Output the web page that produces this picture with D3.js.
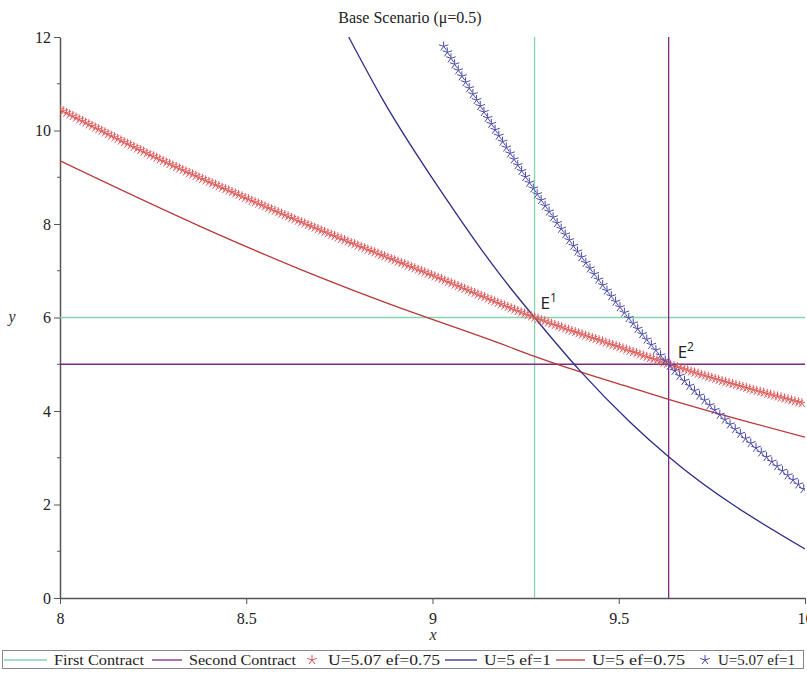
<!DOCTYPE html>
<html lang="en">
  <head>
    <meta charset="utf-8"/>
    <title>Base Scenario</title>
    <script src="https://d3js.org/d3.v7.min.js"></script>
    <style>
      body { margin: 0; background: #fff; }
      svg { display: block; font-family: "Liberation Serif", "DejaVu Serif", serif; }
    </style>
  </head>
  <body>
    <div id="chart"></div>
    <script>
    // values
    var xTicks = [8, 8.5, 9, 9.5, 10];
    var yTicks = [0, 2, 4, 6, 8, 10, 12];
    var firstContract = {x: 9.274, y: 6};
    var secondContract = {x: 9.634, y: 5};

    var u507ef075 = [[8, 10.45], [8.25, 9.45], [8.5, 8.55], [8.75, 7.7], [9, 6.9],
                     [9.274, 6.0], [9.5, 5.37], [9.634, 5.0], [10, 4.15]];
    var u5ef1 = [[8.775, 12.0], [8.868, 10.64], [9.04, 8.5], [9.129, 7.48], [9.183, 6.9],
                 [9.274, 6.0], [9.395, 4.87], [9.532, 3.75], [9.634, 3.02], [10, 1.05]];
    var u5ef075 = [[8, 9.35], [8.376, 7.95], [8.645, 7.03], [8.86, 6.36], [9.183, 5.44],
                   [9.274, 5.17], [9.395, 4.84], [9.532, 4.5], [9.634, 4.25], [10, 3.44]];
    var u507ef1 = [[9.03, 11.8], [9.274, 8.72], [9.532, 5.94], [9.634, 5.0],
                   [9.766, 3.96], [10, 2.31]];

    var legendItems = [
      {label: "First Contract", color: "#86d3ad", kind: "line"},
      {label: "Second  Contract", color: "#7d2a7d", kind: "line"},
      {label: "U=5.07 ef=0.75", color: "#dd5a5a", kind: "star"},
      {label: "U=5 ef=1", color: "#2c2c86", kind: "line"},
      {label: "U=5 ef=0.75", color: "#b83838", kind: "line"},
      {label: "U=5.07 ef=1", color: "#4a4aa8", kind: "star"}
    ];

    var width = 807, height = 673;
    var plotLeft = 60, plotRight = 805, plotTop = 37, plotBottom = 598;

    var svg = d3.select("#chart").append("svg")
        .attr("width", width)
        .attr("height", height);

    var x = d3.scaleLinear().domain([8, 10]).range([plotLeft, plotRight]);
    var y = d3.scaleLinear().domain([0, 12]).range([plotBottom, plotTop]);

    svg.append("defs").append("clipPath").attr("id", "plot")
      .append("rect").attr("x", plotLeft).attr("y", plotTop - 2)
      .attr("width", plotRight - plotLeft).attr("height", plotBottom - plotTop + 2);

    // title
    svg.append("text").attr("x", 410).attr("y", 23)
      .attr("text-anchor", "middle").attr("font-size", 16).attr("fill", "#222")
      .text("Base Scenario (\u03bc=0.5)");

    // axes
    var axisColor = "#555";
    var xAxis = svg.append("g").attr("transform", "translate(0," + plotBottom + ")")
      .call(d3.axisBottom(x).tickValues(xTicks).tickFormat(d3.format("")).tickSize(6).tickSizeOuter(0));
    var yAxis = svg.append("g").attr("transform", "translate(" + plotLeft + ",0)")
      .call(d3.axisLeft(y).tickValues(yTicks).tickSize(6).tickSizeOuter(0));
    // minor y ticks
    yAxis.selectAll(".minor").data(d3.range(1, 12, 2)).enter().append("line")
      .attr("class", "minor").attr("x1", -3).attr("x2", 0)
      .attr("y1", function(d) { return y(d); }).attr("y2", function(d) { return y(d); })
      .attr("stroke", axisColor);
    [xAxis, yAxis].forEach(function(a) {
      a.select(".domain").attr("stroke", axisColor).attr("stroke-width", 1.5);
      a.selectAll(".tick line").attr("stroke", axisColor);
      a.selectAll("text").attr("font-family", "Liberation Serif").attr("font-size", 16).attr("fill", "#222");
    });
    xAxis.selectAll("text").attr("dy", "1.05em");
    yAxis.selectAll("text").attr("x", -9);

    svg.append("text").attr("x", 433).attr("y", 640).attr("text-anchor", "middle")
      .attr("font-style", "italic").attr("font-size", 16).attr("fill", "#333").text("x");
    svg.append("text").attr("x", 12).attr("y", 322).attr("text-anchor", "middle")
      .attr("font-style", "italic").attr("font-size", 16).attr("fill", "#333").text("y");

    var plot = svg.append("g").attr("clip-path", "url(#plot)");

    // contract lines
    plot.append("line").attr("x1", x(firstContract.x)).attr("x2", x(firstContract.x))
      .attr("y1", y(0)).attr("y2", y(12)).attr("stroke", legendItems[0].color).attr("stroke-width", 1.3);
    plot.append("line").attr("x1", x(8)).attr("x2", x(10))
      .attr("y1", y(firstContract.y)).attr("y2", y(firstContract.y)).attr("stroke", legendItems[0].color).attr("stroke-width", 1.3);
    plot.append("line").attr("x1", x(secondContract.x)).attr("x2", x(secondContract.x))
      .attr("y1", y(0)).attr("y2", y(12)).attr("stroke", legendItems[1].color).attr("stroke-width", 1.3);
    plot.append("line").attr("x1", x(8)).attr("x2", x(10))
      .attr("y1", y(secondContract.y)).attr("y2", y(secondContract.y)).attr("stroke", legendItems[1].color).attr("stroke-width", 1.3);

    var line = d3.line().x(function(d) { return x(d[0]); }).y(function(d) { return y(d[1]); })
      .curve(d3.curveMonotoneX);

    // five armed asterisk, like the plotting symbol in the picture
    function asterisk(r) {
      var d = "";
      for (var k = 0; k < 5; k++) {
        var a = -Math.PI / 2 + k * 2 * Math.PI / 5;
        d += "M0,0L" + (r * Math.cos(a)).toFixed(2) + "," + (r * Math.sin(a)).toFixed(2);
      }
      return d;
    }
    var star = asterisk(5);

    function drawLine(data, color) {
      plot.append("path").datum(data).attr("d", line)
        .attr("fill", "none").attr("stroke", color).attr("stroke-width", 1.3);
    }

    // stars sit along the curve, evenly spaced along its length
    function drawStars(data, color, step) {
      var p = plot.append("path").datum(data).attr("d", line)
        .attr("fill", "none").attr("stroke", "none");
      var node = p.node(), len = node.getTotalLength();
      var pts = d3.range(0, len + 0.1, step).map(function(l) { return node.getPointAtLength(l); });
      plot.append("g").selectAll("path").data(pts).enter().append("path")
        .attr("d", star)
        .attr("transform", function(d) { return "translate(" + d.x + "," + d.y + ")"; })
        .attr("fill", "none").attr("stroke", color).attr("stroke-width", 1);
    }

    drawLine(u5ef075, legendItems[4].color);
    drawLine(u5ef1, legendItems[3].color);
    drawStars(u507ef075, legendItems[2].color, 3.6);
    drawStars(u507ef1, legendItems[5].color, 7);

    // equilibrium labels
    function eLabel(px, py, sup) {
      var t = svg.append("text").attr("x", px).attr("y", py)
        .attr("font-family", "Open Sans, Noto Sans, sans-serif").attr("font-size", 17).attr("fill", "#222");
      t.append("tspan").text("E");
      t.append("tspan").attr("dy", -7).attr("font-size", 12).text(sup);
    }
    eLabel(x(firstContract.x) + 6, y(firstContract.y) - 9, "1");
    eLabel(x(secondContract.x) + 9, y(secondContract.y) - 6, "2");

    // legend
    var legend = svg.append("g");
    legend.append("rect").attr("x", 2.5).attr("y", 650.5).attr("width", 801).attr("height", 18)
      .attr("fill", "#fff").attr("stroke", "#888");
    var legendX = [4, 152, 302, 445, 556, 695];
    var legendTextX = [54, 189, 328, 484, 592, 718];
    var legendTextW = [90, 107, 112, 67, 93, 77];
    var ly = 660;
    legendItems.forEach(function(d, i) {
      if (d.kind === "line") {
        legend.append("line").attr("x1", legendX[i]).attr("x2", legendTextX[i] - 7)
          .attr("y1", ly).attr("y2", ly).attr("stroke", d.color).attr("stroke-width", 1.3);
      } else {
        legend.append("path").attr("d", star)
          .attr("transform", "translate(" + (legendX[i] + 10) + "," + ly + ")")
          .attr("fill", "none").attr("stroke", d.color).attr("stroke-width", 1);
      }
      legend.append("text").attr("x", legendTextX[i]).attr("y", ly + 5)
        .attr("font-size", 15).attr("fill", "#222")
        .attr("textLength", legendTextW[i]).attr("lengthAdjust", "spacingAndGlyphs")
        .text(d.label);
    });
    </script>
  </body>
</html>
